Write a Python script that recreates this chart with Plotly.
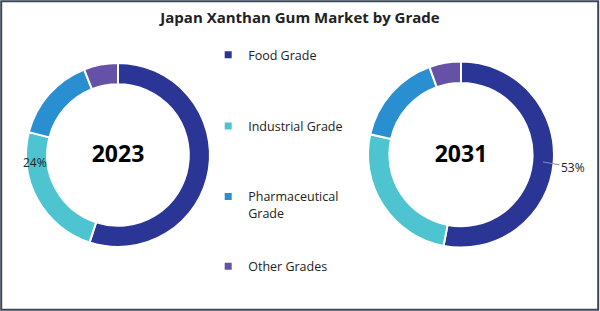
import plotly.graph_objects as go

title_text = "Japan Xanthan Gum Market by Grade"
grades = ["Food Grade", "Industrial Grade", "Pharmaceutical Grade", "Other Grades"]
legend_names = ["Food Grade", "Industrial Grade", "Pharmaceutical<br>Grade", "Other Grades"]
share_2023 = [55, 24, 15, 6]
share_2031 = [53, 25.5, 16, 5.5]
years = ["2023", "2031"]
colors = ["#2B3595", "#4DC4D0", "#2A8FD0", "#6551A5"]

fig = go.Figure()

common = dict(
    labels=grades, hole=0.77, sort=False, direction="clockwise", rotation=0,
    marker=dict(colors=colors, line=dict(color="white", width=2)),
    textinfo="none", showlegend=False, hoverinfo="label+percent",
)
fig.add_trace(go.Pie(values=share_2023, domain=dict(x=[0.0433, 0.35], y=[0.2058, 0.7974]),
                     title=dict(text="<b>%s</b>" % years[0], position="middle center",
                                font=dict(size=23, color="#000000", family="Open Sans")),
                     **common))
fig.add_trace(go.Pie(values=share_2031, domain=dict(x=[0.6133, 0.9233], y=[0.204, 0.802]),
                     title=dict(text="<b>%s</b>" % years[1], position="middle center",
                                font=dict(size=23, color="#000000", family="Open Sans")),
                     **common))

# legend entries (one legend each for exact spacing)
legend_y = [0.871, 0.642, 0.415, 0.191]
legend_ids = ["legend", "legend2", "legend3", "legend4"]
for name, col, lid in zip(legend_names, colors, legend_ids):
    fig.add_trace(go.Scatter(x=[None], y=[None], mode="markers", name=name,
                             marker=dict(symbol="square", size=7, color=col),
                             legend=lid, showlegend=True))

legend_common = dict(x=0.347, xanchor="left", yanchor="top", bgcolor="rgba(0,0,0,0)",
                     font=dict(family="Open Sans", size=12.5, color="#222222"),
                     itemwidth=30, valign="top", tracegroupgap=0)
layout_legends = {}
for lid, ly in zip(legend_ids, legend_y):
    layout_legends[lid] = dict(y=ly, **legend_common)

fig.update_layout(
    width=600, height=311,
    margin=dict(l=0, r=0, t=0, b=0),
    paper_bgcolor="white", plot_bgcolor="white",
    xaxis=dict(visible=False), yaxis=dict(visible=False),
    title=dict(text="<b>%s</b>" % title_text, x=0.5, xanchor="center", y=0.943, yanchor="middle",
               font=dict(family="Open Sans", size=15, color="#222222")),
    shapes=[dict(type="rect", xref="paper", yref="paper", x0=0.002, x1=0.997, y0=0.004, y1=0.996,
                 line=dict(color="#3A4757", width=2))],
    annotations=[
        dict(text="%d%%" % share_2023[1], xref="paper", yref="paper", x=0.058, y=0.479,
             xanchor="center", yanchor="middle", showarrow=False,
             font=dict(family="Open Sans", size=12, color="#222222")),
        dict(text="%d%%" % share_2031[0], xref="paper", yref="paper", x=0.905, y=0.479,
             showarrow=True, arrowhead=0, arrowwidth=1, arrowcolor="#8A8FB0",
             ax=30, ay=5,
             font=dict(family="Open Sans", size=12, color="#222222")),
    ],
    **layout_legends,
)

fig.write_html("out.html")
